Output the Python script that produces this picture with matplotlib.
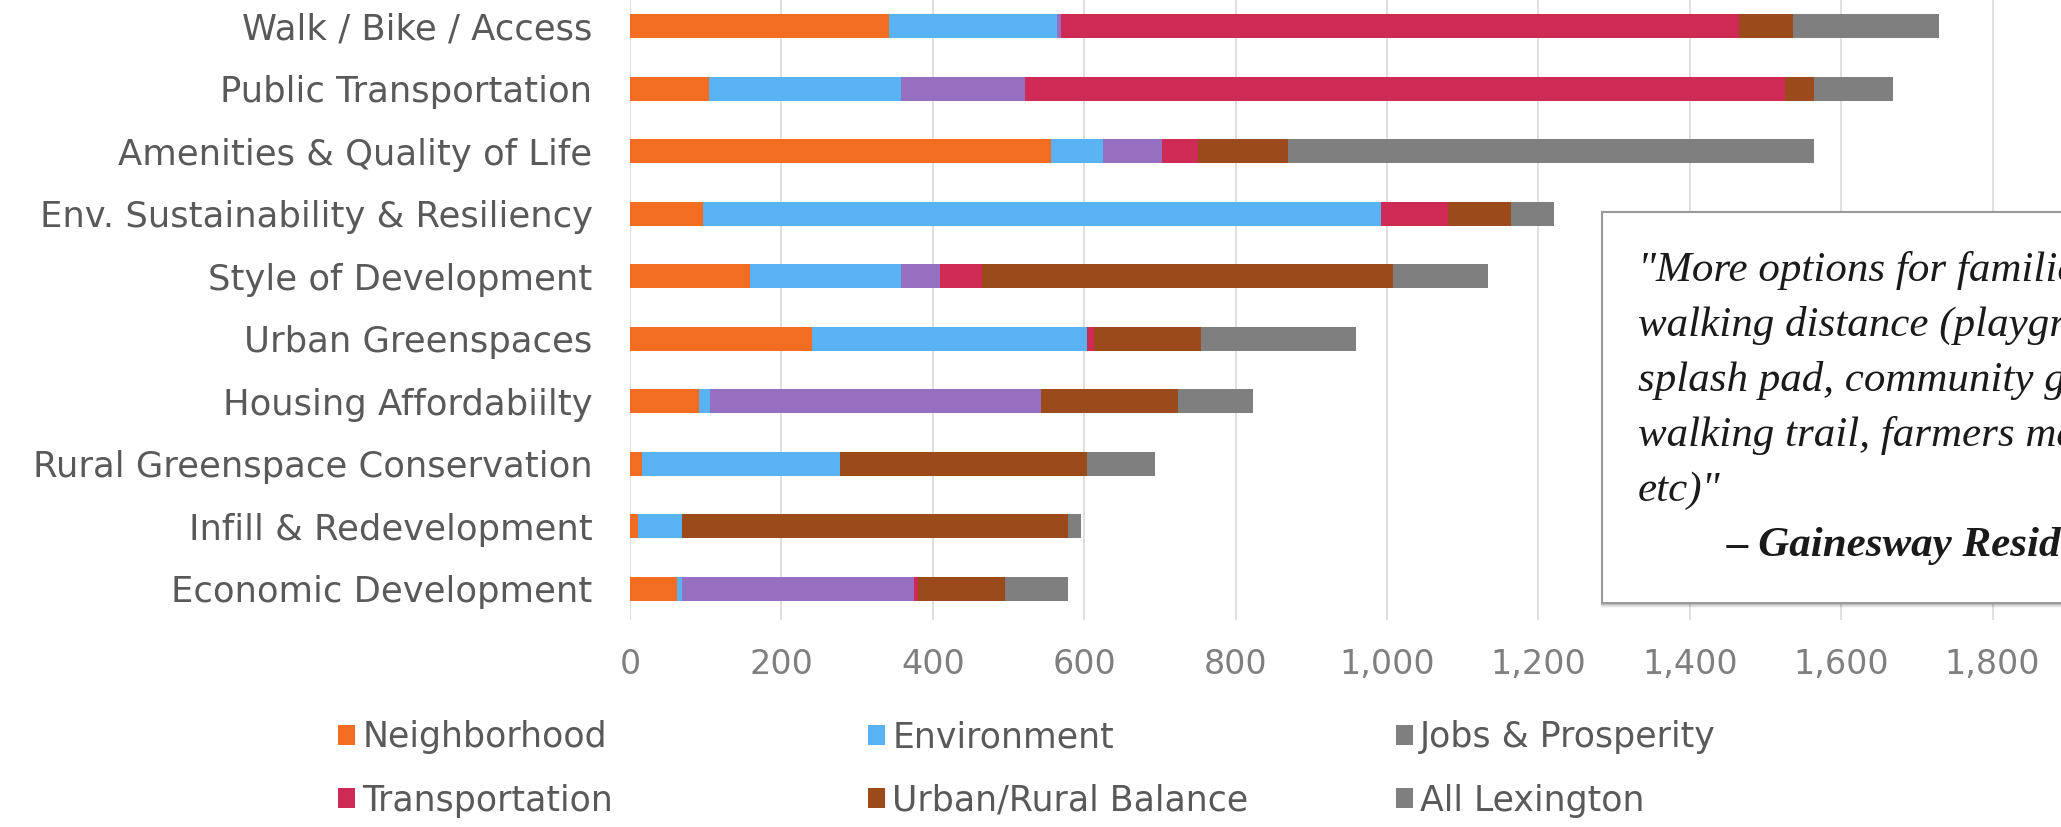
import matplotlib.pyplot as plt
from matplotlib.patches import Rectangle, Patch
from matplotlib.ticker import FuncFormatter

# categories, top to bottom
categories = [
    "Walk / Bike / Access",
    "Public Transportation",
    "Amenities & Quality of Life",
    "Env. Sustainability & Resiliency",
    "Style of Development",
    "Urban Greenspaces",
    "Housing Affordabiilty",
    "Rural Greenspace Conservation",
    "Infill & Redevelopment",
    "Economic Development",
]

series_names = ["Neighborhood", "Environment", "Jobs & Prosperity",
                "Transportation", "Urban/Rural Balance", "All Lexington"]

neighborhood = [342, 105, 556, 96, 158, 240, 91, 16, 10, 62]
environment = [222, 253, 69, 896, 200, 364, 15, 261, 59, 7]
jobs = [6, 164, 78, 0, 52, 0, 437, 0, 0, 306]
transportation = [895, 1004, 47, 89, 55, 9, 0, 0, 0, 5]
urban_rural = [71, 38, 119, 83, 543, 141, 181, 327, 509, 116]
all_lexington = [193, 105, 695, 56, 126, 205, 99, 90, 18, 82]

series = [neighborhood, environment, jobs, transportation, urban_rural, all_lexington]
colors = ["#f26c22", "#59b3f3", "#9670c0", "#cf2a56", "#9b4a1c", "#7f7f7f"]
# legend swatches as they appear in the picture
legend_colors = ["#f26c22", "#59b3f3", "#7f7f7f", "#cf2a56", "#9b4a1c", "#7f7f7f"]

quote_lines = ['"More options for families within',
               'walking distance (playground,',
               'splash pad, community garden,',
               'walking trail, farmers market,',
               'etc)"']
quote_author = "\u2013 Gainesway Resident"

W, H = 2061, 827
fig = plt.figure(figsize=(W / 100, H / 100), dpi=100)
fig.patch.set_facecolor("white")

# axes run past the right edge of the canvas (the original is cropped)
ax = fig.add_axes([630 / W, 1 - 620 / H, 1514 / W, 625 / H])

y = list(range(len(categories)))
left = [0] * len(categories)
for vals, col, name in zip(series, colors, series_names):
    ax.barh(y, vals, left=left, height=0.39, color=col, label=name, zorder=3)
    left = [a + b for a, b in zip(left, vals)]

ax.set_ylim(len(categories) - 0.5, -0.5)
ax.set_xlim(0, 2000)
ax.set_yticks(y)
ax.set_yticklabels(categories, fontsize=25.5, color="#595959", family="DejaVu Sans")
ax.set_xticks(range(0, 1801, 200))
ax.xaxis.set_major_formatter(FuncFormatter(lambda v, p: f"{int(v):,}"))
ax.tick_params(axis="x", length=0, pad=20, labelsize=24, labelcolor="#7f7f7f")
ax.tick_params(axis="y", length=0, pad=27)
ax.grid(axis="x", color="#d9d9d9", linewidth=1.2, zorder=0)
for s in ax.spines.values():
    s.set_visible(False)

# legend: one small legend per column
col_x = [338, 868, 1396]
for c in range(3):
    handles = [Patch(facecolor=legend_colors[c + 3 * r], edgecolor="none")
               for r in range(2)]
    labels = [series_names[c + 3 * r] for r in range(2)]
    lg = fig.legend(handles, labels, loc="upper left",
                    bbox_to_anchor=(col_x[c] / W, 1 - 720 / H),
                    frameon=False, fontsize=25, handlelength=0.5, handleheight=0.5,
                    handletextpad=0.2, labelspacing=0.85, borderpad=0, borderaxespad=0)
    for t in lg.get_texts():
        t.set_color("#595959")

# quote box with a soft shadow
bx0, by0, by1 = 1602, 212, 603
for i, a in enumerate([0.10, 0.08, 0.06, 0.04]):
    off = i + 2
    fig.add_artist(Rectangle(((bx0 - 1) / W, 1 - (by1 + off) / H), (W - bx0 + 20) / W,
                             (by1 - by0) / H, transform=fig.transFigure,
                             facecolor="black", alpha=a, edgecolor="none", zorder=8))
fig.add_artist(Rectangle((bx0 / W, 1 - by1 / H), (W - bx0 + 20) / W, (by1 - by0) / H,
                         transform=fig.transFigure, facecolor="white",
                         edgecolor="#9a9a9a", linewidth=1.5, zorder=9))

for i, line in enumerate(quote_lines):
    fig.text(1638 / W, 1 - (281 + 55 * i) / H, line, fontsize=31, style="italic",
             family="Liberation Serif", color="#1a1a1a", va="baseline", zorder=10)
fig.text(1727 / W, 1 - 556 / H, quote_author, fontsize=31, style="italic",
         weight="bold", family="Liberation Serif", color="#1a1a1a", va="baseline", zorder=10)

fig.savefig("out.png", dpi=100)
